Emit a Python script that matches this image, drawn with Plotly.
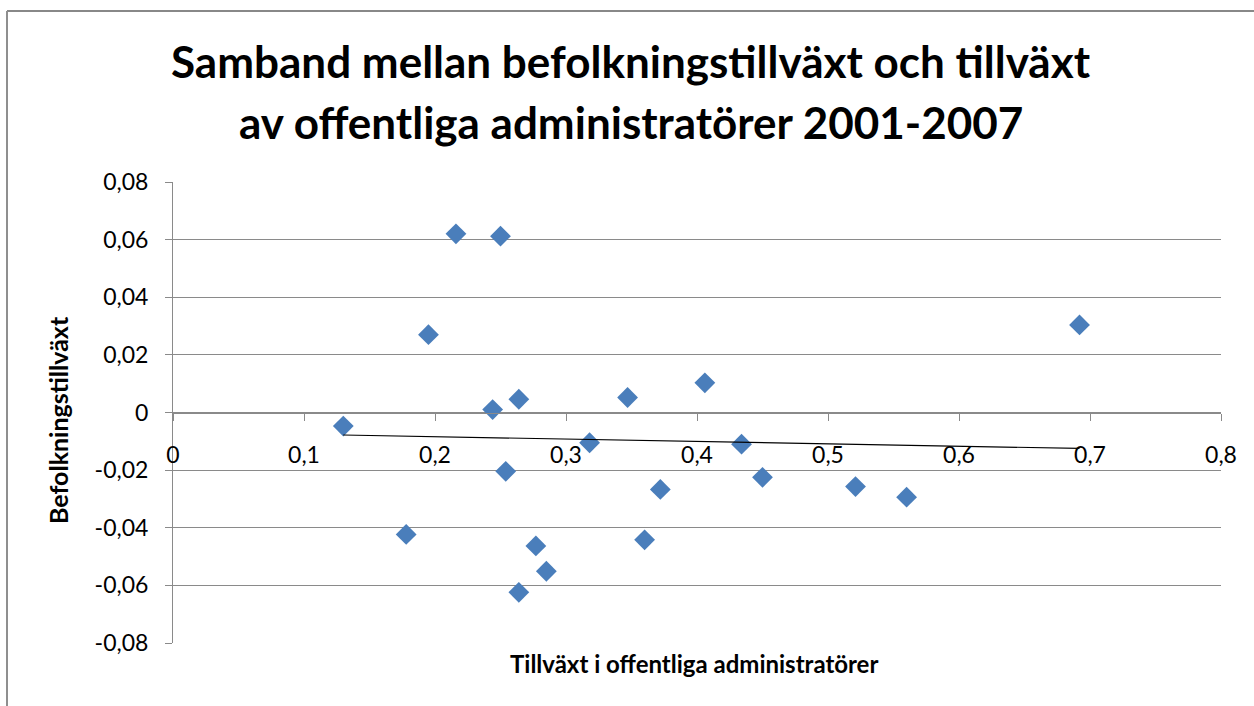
import numpy as np
import plotly.graph_objects as go

# Data
x_vals = [0.130, 0.178, 0.195, 0.216, 0.250, 0.244, 0.264, 0.254, 0.277, 0.285, 0.264,
          0.318, 0.347, 0.360, 0.372, 0.406, 0.434, 0.450, 0.521, 0.560, 0.692]
y_vals = [-0.0047, -0.0423, 0.0270, 0.0620, 0.0612, 0.0010, 0.0046, -0.0204, -0.0463,
          -0.0551, -0.0624, -0.0105, 0.0052, -0.0442, -0.0267, 0.0103, -0.0110, -0.0225,
          -0.0257, -0.0294, 0.0304]

x_ticks = [0, 0.1, 0.2, 0.3, 0.4, 0.5, 0.6, 0.7, 0.8]
x_ticktext = ["0", "0,1", "0,2", "0,3", "0,4", "0,5", "0,6", "0,7", "0,8"]
y_ticks = [-0.08, -0.06, -0.04, -0.02, 0, 0.02, 0.04, 0.06, 0.08]
y_ticktext = ["-0,08", "-0,06", "-0,04", "-0,02", "0", "0,02", "0,04", "0,06", "0,08"]

title_lines = ["Samband mellan befolkningstillväxt och tillväxt",
               "av offentliga administratörer 2001-2007"]
x_title = "Tillväxt i offentliga administratörer"
y_title = "Befolkningstillväxt"

# Linear trendline (least squares) computed from the data
slope, intercept = np.polyfit(x_vals, y_vals, 1)
trend_x = [min(x_vals), max(x_vals)]
trend_y = [slope * v + intercept for v in trend_x]

W, H = 1254, 706
L, R, T, B = 173, 33, 182, 63
pw, ph = W - L - R, H - T - B

def px(xp):
    return (xp - L) / pw

def py(yp):
    return (H - B - yp) / ph

FONT = "Lato, 'Open Sans', sans-serif"
GRID = "#8a8a8a"

fig = go.Figure()
fig.add_trace(go.Scatter(x=x_vals, y=y_vals, mode="markers",
                         marker=dict(symbol="diamond", size=16, color="#4a7ebb",
                                     line=dict(width=0)),
                         showlegend=False, hoverinfo="x+y"))
fig.add_trace(go.Scatter(x=trend_x, y=trend_y, mode="lines",
                         line=dict(color="black", width=1.2),
                         showlegend=False, hoverinfo="skip"))

fig.update_layout(
    width=W, height=H,
    margin=dict(l=L, r=R, t=T, b=B),
    paper_bgcolor="white", plot_bgcolor="white",
    font=dict(family=FONT, size=22, color="black"),
    xaxis=dict(range=[0, 0.8], tickvals=x_ticks, ticktext=x_ticktext,
               showgrid=False, zeroline=False, showline=True, linecolor=GRID, linewidth=1,
               ticks="outside", ticklen=7, tickcolor=GRID, anchor="free", position=0.5,
               ticklabelstandoff=15, tickfont=dict(size=23, family=FONT)),
    yaxis=dict(range=[-0.08, 0.08], tickvals=y_ticks, ticktext=y_ticktext,
               showgrid=True, gridcolor=GRID, gridwidth=1, zeroline=False,
               showline=True, linecolor=GRID, linewidth=1,
               ticks="outside", ticklen=7, tickcolor=GRID,
               ticklabelstandoff=12, tickfont=dict(size=23, family=FONT)),
    shapes=[
        dict(type="line", xref="paper", yref="paper", x0=px(7), x1=px(1260), y0=py(11), y1=py(11),
             line=dict(color="#888888", width=2)),
        dict(type="line", xref="paper", yref="paper", x0=px(7), x1=px(7), y0=py(11), y1=py(710),
             line=dict(color="#8f8f8f", width=2)),
    ],
    annotations=[
        dict(text="<b>" + title_lines[0] + "</b>", xref="paper", yref="paper",
             x=px(631), y=py(61), showarrow=False, font=dict(size=44, family=FONT),
             xanchor="center", yanchor="middle"),
        dict(text="<b>" + title_lines[1] + "</b>", xref="paper", yref="paper",
             x=px(631), y=py(122), showarrow=False, font=dict(size=44, family=FONT),
             xanchor="center", yanchor="middle"),
        dict(text="<b>" + x_title + "</b>", xref="paper", yref="paper",
             x=px(694), y=py(663), showarrow=False, font=dict(size=24, family=FONT),
             xanchor="center", yanchor="middle"),
        dict(text="<b>" + y_title + "</b>", xref="paper", yref="paper",
             x=px(58), y=py(420), showarrow=False, font=dict(size=25, family=FONT),
             textangle=-90, xanchor="center", yanchor="middle"),
    ],
)

fig.write_html("out.html", config={"displayModeBar": False},
               post_script="document.body.style.margin='0';")
